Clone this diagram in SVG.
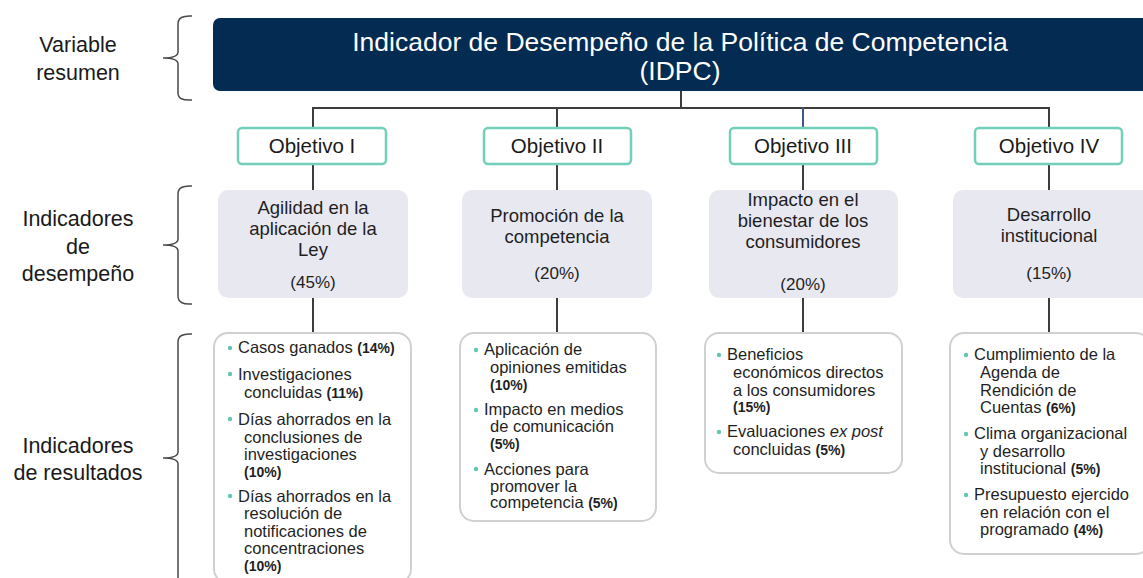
<svg xmlns="http://www.w3.org/2000/svg" width="1143" height="578" viewBox="0 0 1143 578">
<style>
.lbl{font-family:"Liberation Sans",Arial,sans-serif;font-size:21.5px;fill:#1a1a1a;text-anchor:middle}
.brace{fill:none;stroke:#4a4a4a;stroke-width:1.5}
.conn{fill:none;stroke:#3d3d3d;stroke-width:2}
.obj rect{fill:#fff;stroke:#72cfb9;stroke-width:2.5}
.obj text{font-family:"Liberation Sans",Arial,sans-serif;font-size:20.5px;fill:#1a1a1a;text-anchor:middle}
.ind rect{fill:#e8e8f1}
.ind text{font-family:"Liberation Sans",Arial,sans-serif;font-size:18.5px;fill:#1f1f1f;text-anchor:middle}
.res rect{fill:#fff;stroke:#d0d0d0;stroke-width:2}
.res text{font-family:"Liberation Sans",Arial,sans-serif;font-size:16.5px;fill:#1f1f1f}
.res circle{fill:#63c7b0}
.res .p{font-weight:bold;font-size:14px}
</style>

<!-- Left labels -->
<g id="label-variable">
<text class="lbl" x="78" y="52">Variable</text>
<text class="lbl" x="78" y="80">resumen</text>
</g>
<g id="label-desempeno">
<text class="lbl" x="78" y="226">Indicadores</text>
<text class="lbl" x="78" y="254">de</text>
<text class="lbl" x="78" y="281">desempeño</text>
</g>
<g id="label-resultados">
<text class="lbl" x="78" y="453">Indicadores</text>
<text class="lbl" x="78" y="480">de resultados</text>
</g>

<!-- Braces -->
<g id="braces">
<path class="brace" d="M192,16 Q178,15 178,24 L178,52 Q178,58 163,58 Q178,58 178,64 L178,93 Q178,101 192,100"/>
<path class="brace" d="M192,186 Q178,185 178,194 L178,239 Q178,245 163,245 Q178,245 178,251 L178,296 Q178,305 192,304"/>
<path class="brace" d="M192,334 Q178,333 178,342 L178,452 Q178,458 163,458 Q178,458 178,464 L178,580"/>
</g>

<!-- Connectors -->
<g id="connectors">
<path class="conn" d="M681,91 V108"/>
<path class="conn" d="M313,108 H1049"/>
<path class="conn" d="M313,107 V128"/>
<path class="conn" d="M557,107 V128"/>
<path class="conn" d="M803,107 V128" style="stroke:#3b5a8a"/>
<path class="conn" d="M1049,107 V128"/>
<path class="conn" d="M313,164 V190"/>
<path class="conn" d="M557,164 V190"/>
<path class="conn" d="M803,164 V190"/>
<path class="conn" d="M1049,164 V190"/>
<path class="conn" d="M313,298 V333"/>
<path class="conn" d="M557,298 V333"/>
<path class="conn" d="M803,298 V333"/>
<path class="conn" d="M1049,298 V333"/>
</g>

<!-- Header -->
<g id="header">
<rect x="213" y="18" width="940" height="73" rx="7" fill="#042b52"/>
<text x="680" y="51" font-family="'Liberation Sans',Arial,sans-serif" font-size="26.5" fill="#ffffff" text-anchor="middle">Indicador de Desempeño de la Política de Competencia</text>
<text x="680" y="80" font-family="'Liberation Sans',Arial,sans-serif" font-size="26.5" fill="#ffffff" text-anchor="middle">(IDPC)</text>
</g>

<!-- Objectives -->
<g id="obj1" class="obj"><rect x="238" y="128" width="148" height="36" rx="4"/><text x="312" y="153">Objetivo I</text></g>
<g id="obj2" class="obj"><rect x="484" y="128" width="147" height="36" rx="4"/><text x="557" y="153">Objetivo II</text></g>
<g id="obj3" class="obj"><rect x="730" y="128" width="147" height="36" rx="4"/><text x="803" y="153">Objetivo III</text></g>
<g id="obj4" class="obj"><rect x="975" y="128" width="147" height="36" rx="4"/><text x="1049" y="153">Objetivo IV</text></g>

<!-- Performance indicators -->
<g id="ind1" class="ind"><rect x="218" y="190" width="190" height="108" rx="10"/>
<text x="313" y="214">Agilidad en la</text><text x="313" y="235">aplicación de la</text><text x="313" y="256">Ley</text><text x="313" y="288" style="font-size:17px">(45%)</text></g>
<g id="ind2" class="ind"><rect x="462" y="190" width="190" height="108" rx="10"/>
<text x="557" y="222">Promoción de la</text><text x="557" y="243">competencia</text><text x="557" y="279" style="font-size:17px">(20%)</text></g>
<g id="ind3" class="ind"><rect x="709" y="190" width="189" height="108" rx="10"/>
<text x="803" y="206">Impacto en el</text><text x="803" y="227">bienestar de los</text><text x="803" y="248">consumidores</text><text x="803" y="290" style="font-size:17px">(20%)</text></g>
<g id="ind4" class="ind"><rect x="953" y="190" width="200" height="108" rx="10"/>
<text x="1049" y="221">Desarrollo</text><text x="1049" y="242">institucional</text><text x="1049" y="279" style="font-size:17px">(15%)</text></g>

<!-- Result indicators -->
<g id="res1" class="res"><rect x="214" y="333" width="197" height="250" rx="14"/>
<circle cx="230" cy="348" r="2.2"/><text x="238" y="353">Casos ganados <tspan class="p">(14%)</tspan></text>
<circle cx="230" cy="374" r="2.2"/><text x="238" y="380">Investigaciones</text>
<text x="244" y="398">concluidas <tspan class="p">(11%)</tspan></text>
<circle cx="230" cy="419" r="2.2"/><text x="238" y="425">Días ahorrados en la</text>
<text x="244" y="443">conclusiones de</text>
<text x="244" y="460">investigaciones</text>
<text x="244" y="477" class="p">(10%)</text>
<circle cx="230" cy="496" r="2.2"/><text x="238" y="502">Días ahorrados en la</text>
<text x="244" y="519">resolución de</text>
<text x="244" y="537">notificaciones de</text>
<text x="244" y="554">concentraciones</text>
<text x="244" y="571" class="p">(10%)</text>
</g>
<g id="res2" class="res"><rect x="460" y="333" width="196" height="188" rx="14"/>
<circle cx="476" cy="350" r="2.2"/><text x="484" y="355">Aplicación de</text>
<text x="490" y="373">opiniones emitidas</text>
<text x="490" y="390" class="p">(10%)</text>
<circle cx="476" cy="410" r="2.2"/><text x="484" y="415">Impacto en medios</text>
<text x="490" y="432">de comunicación</text>
<text x="490" y="449" class="p">(5%)</text>
<circle cx="476" cy="469" r="2.2"/><text x="484" y="475">Acciones para</text>
<text x="490" y="492">promover la</text>
<text x="490" y="508">competencia <tspan class="p">(5%)</tspan></text>
</g>
<g id="res3" class="res"><rect x="705" y="333" width="197" height="140" rx="14"/>
<circle cx="719" cy="355" r="2.2"/><text x="727" y="360">Beneficios</text>
<text x="733" y="378">económicos directos</text>
<text x="733" y="396">a los consumidores</text>
<text x="733" y="412" class="p">(15%)</text>
<circle cx="719" cy="432" r="2.2"/><text x="727" y="437">Evaluaciones <tspan font-style="italic">ex post</tspan></text>
<text x="733" y="455">concluidas <tspan class="p">(5%)</tspan></text>
</g>
<g id="res4" class="res"><rect x="950" y="333" width="200" height="221" rx="14"/>
<circle cx="966" cy="355" r="2.2"/><text x="974" y="360">Cumplimiento de la</text>
<text x="980" y="378">Agenda de</text>
<text x="980" y="396">Rendición de</text>
<text x="980" y="413">Cuentas <tspan class="p">(6%)</tspan></text>
<circle cx="966" cy="434" r="2.2"/><text x="974" y="439">Clima organizacional</text>
<text x="980" y="457">y desarrollo</text>
<text x="980" y="474">institucional <tspan class="p">(5%)</tspan></text>
<circle cx="966" cy="495" r="2.2"/><text x="974" y="500">Presupuesto ejercido</text>
<text x="980" y="518">en relación con el</text>
<text x="980" y="535">programado <tspan class="p">(4%)</tspan></text>
</g>
</svg>
